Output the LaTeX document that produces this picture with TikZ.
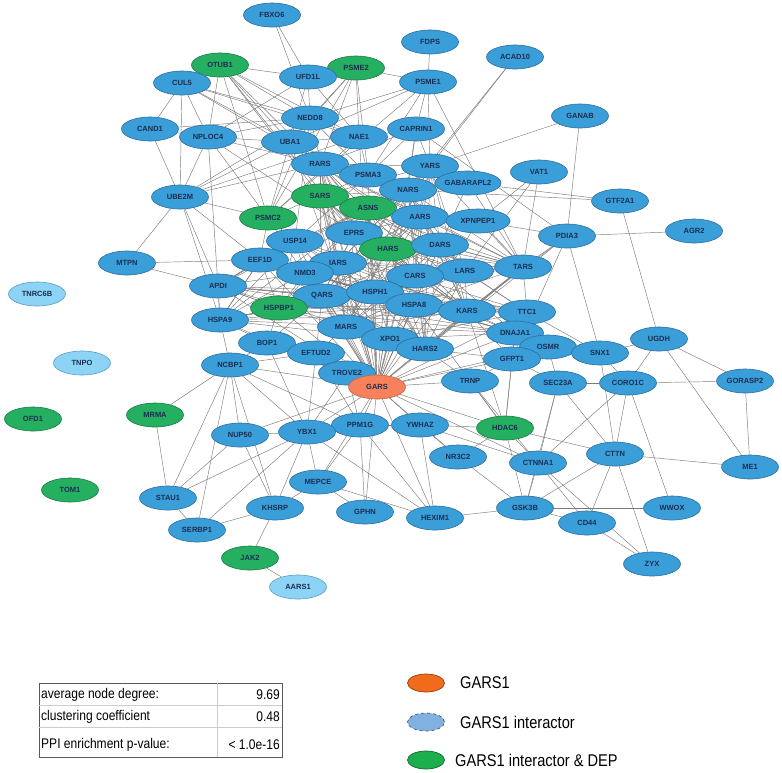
\documentclass[tikz,border=0pt]{standalone}
\usepackage{fontspec}
\setmainfont{Liberation Sans}
\newfontfamily\narrowfont[FakeStretch=0.86]{Liberation Sans}
\usetikzlibrary{shapes.geometric,backgrounds}
\definecolor{nodeblue}{HTML}{3A9ED8}
\definecolor{nodeblueline}{HTML}{2E6E9E}
\definecolor{nodegreen}{HTML}{25B061}
\definecolor{nodegreenline}{HTML}{1C7A45}
\definecolor{nodelight}{HTML}{8DD3F6}
\definecolor{nodelightline}{HTML}{5C9CC4}
\definecolor{nodeorange}{HTML}{F7815A}
\definecolor{nodeorangeline}{HTML}{C8604A}
\definecolor{labeltext}{HTML}{1B2E52}
\definecolor{edgegray}{HTML}{7E7A78}
\definecolor{keyorange}{HTML}{F26B1D}
\definecolor{keyblue}{HTML}{80B1E0}
\definecolor{keygreen}{HTML}{1DAE4E}
\begin{document}
\begin{tikzpicture}[x=1pt,y=-1pt,
  prot/.style={ellipse,draw=nodeblueline,fill=nodeblue,line width=0.6pt,minimum width=57pt,minimum height=24pt,inner sep=0pt,font=\fontsize{7.5}{8}\selectfont\bfseries,text=labeltext},
  dep/.style={prot,fill=nodegreen,draw=nodegreenline},
  lone/.style={prot,fill=nodelight,draw=nodelightline},
  seed/.style={prot,fill=nodeorange,draw=nodeorangeline},
  wide/.style={minimum width=64pt},
  link/.style={draw=edgegray,line width=0.45pt},
  key/.style={ellipse,minimum width=37pt,minimum height=18pt,inner sep=0pt,line width=0.7pt},
  keytext/.style={anchor=west,inner sep=0pt,font=\narrowfont\fontsize{17}{19}\selectfont},
  cell/.style={inner sep=0pt,font=\narrowfont\fontsize{14}{16}\selectfont}]
\useasboundingbox (0,0) rectangle (782,772);

% proteins
\node[prot] (fbxo) at (272,15) {FBXO6};
\node[prot] (fdps) at (430,42) {FDPS};
\node[prot] (acad) at (515,57) {ACAD10};
\node[dep] (otub) at (220,65) {OTUB1};
\node[dep] (psme2) at (356,68) {PSME2};
\node[prot] (cul5) at (182,83) {CUL5};
\node[prot] (ufd) at (308,77) {UFD1L};
\node[prot] (psme1) at (428,82) {PSME1};
\node[prot] (ganab) at (580,116) {GANAB};
\node[prot] (nedd) at (310,118) {NEDD8};
\node[prot] (cand) at (150,129) {CAND1};
\node[prot] (nploc) at (208,137) {NPLOC4};
\node[prot] (uba) at (290,142) {UBA1};
\node[prot] (nae) at (359,137) {NAE1};
\node[prot] (capr) at (416,129) {CAPRIN1};
\node[prot] (rars) at (320,164) {RARS};
\node[prot] (yars) at (430,166) {YARS};
\node[prot] (psma) at (368,175) {PSMA3};
\node[prot] (vat) at (539,172) {VAT1};
\node[prot,wide] (gabar) at (468,183) {GABARAPL2};
\node[prot] (nars) at (408,190) {NARS};
\node[dep] (sars) at (320,196) {SARS};
\node[dep] (asns) at (368,208) {ASNS};
\node[dep] (psmc) at (268,218) {PSMC2};
\node[prot] (ube) at (180,197) {UBE2M};
\node[prot] (gtf) at (620,201) {GTF2A1};
\node[prot] (aars) at (420,217) {AARS};
\node[prot,wide] (xpn) at (478,221) {XPNPEP1};
\node[prot] (eprs) at (354,233) {EPRS};
\node[prot] (pdia) at (567,236) {PDIA3};
\node[prot] (agr) at (694,231) {AGR2};
\node[prot] (usp) at (295,241) {USP14};
\node[dep] (hars) at (388,249) {HARS};
\node[prot] (dars) at (440,245) {DARS};
\node[prot] (eef) at (260,260) {EEF1D};
\node[prot] (mtpn) at (127,263) {MTPN};
\node[prot] (iars) at (338,263) {IARS};
\node[prot] (tars) at (523,267) {TARS};
\node[prot] (lars) at (465,271) {LARS};
\node[prot] (nmd) at (305,273) {NMD3};
\node[prot] (cars) at (415,276) {CARS};
\node[prot] (apdi) at (218,286) {APDI};
\node[lone] (tnrc) at (37,294) {TNRC6B};
\node[prot] (qars) at (322,296) {QARS};
\node[prot] (hsph) at (375,292) {HSPH1};
\node[prot] (hspa8) at (414,305) {HSPA8};
\node[dep] (hspbp) at (279,308) {HSPBP1};
\node[prot] (kars) at (467,311) {KARS};
\node[prot] (ttc) at (527,312) {TTC1};
\node[prot] (hspa9) at (220,320) {HSPA9};
\node[prot] (mars) at (346,327) {MARS};
\node[prot] (dnaj) at (515,333) {DNAJA1};
\node[prot] (xpo) at (390,339) {XPO1};
\node[prot] (ugdh) at (659,339) {UGDH};
\node[prot] (bop) at (267,343) {BOP1};
\node[prot] (gsn) at (548,347) {OSMR};
\node[prot] (hars2) at (425,349) {HARS2};
\node[prot] (eftud) at (316,353) {EFTUD2};
\node[prot] (snx) at (600,353) {SNX1};
\node[prot] (gfpt) at (512,359) {GFPT1};
\node[lone] (tnpo) at (82,363) {TNPO};
\node[prot] (ncbp) at (230,365) {NCBP1};
\node[prot] (trove) at (347,373) {TROVE2};
\node[prot] (trnp) at (470,381) {TRNP};
\node[prot] (sec) at (558,383) {SEC23A};
\node[prot] (coro) at (628,383) {CORO1C};
\node[prot] (goras) at (745,381) {GORASP2};
\node[seed] (gars) at (377,387) {GARS};
\node[dep] (mrma) at (155,415) {MRMA};
\node[dep] (ofd) at (33,419) {OFD1};
\node[prot] (ppm) at (360,425) {PPM1G};
\node[prot] (ywhaz) at (420,425) {YWHAZ};
\node[dep] (hdac) at (505,428) {HDAC6};
\node[prot] (ybx) at (307,432) {YBX1};
\node[prot] (nup) at (240,435) {NUP50};
\node[prot] (cttn) at (615,454) {CTTN};
\node[prot] (nr) at (458,457) {NR3C2};
\node[prot] (ctnna) at (538,463) {CTNNA1};
\node[prot] (me1) at (750,467) {ME1};
\node[prot] (mepce) at (318,482) {MEPCE};
\node[dep] (tom) at (70,490) {TOM1};
\node[prot] (stau) at (168,498) {STAU1};
\node[prot] (khsrp) at (275,508) {KHSRP};
\node[prot] (gsk) at (525,508) {GSK3B};
\node[prot] (wwox) at (672,508) {WWOX};
\node[prot] (gphn) at (365,512) {GPHN};
\node[prot] (hexim) at (435,518) {HEXIM1};
\node[prot] (cd44) at (587,523) {CD44};
\node[prot] (serbp) at (197,530) {SERBP1};
\node[dep] (jak) at (250,558) {JAK2};
\node[prot] (zyx) at (652,564) {ZYX};
\node[lone] (aars1) at (298,587) {AARS1};

% interactions
\begin{scope}[on background layer]
\foreach \a/\b in {fbxo/ufd,fbxo/nedd,otub/ufd,otub/cul5,otub/nploc,otub/nedd,otub/uba,otub/rars,otub/psmc,otub/nae,otub/eprs,otub/sars,
  cul5/cand,cul5/ube,cul5/nedd,cul5/uba,cul5/nae,cul5/nploc,cul5/rars,cand/ube,cand/nploc,cand/nedd,
  nploc/ufd,nploc/uba,nploc/nedd,nploc/ube,nploc/psmc,nploc/psma,nploc/apdi,nploc/eprs,
  ube/mtpn,ube/nedd,ube/nae,ube/uba,ube/psmc,ube/eef,ube/hspa9,ube/apdi,ube/rars,mtpn/eef,mtpn/apdi,
  psme2/psme1,psme2/ufd,psme2/nedd,psme2/nae,psme2/psma,psme2/psmc,psme2/uba,psme2/rars,
  psme1/fdps,psme1/capr,psme1/nedd,psme1/psma,psme1/psmc,psme1/tars,psme1/uba,psme1/yars,
  acad/yars,acad/nars,ganab/yars,ganab/pdia,vat/tars,vat/xpn,vat/lars,gtf/ugdh,gtf/gabar,gtf/nars,
  pdia/agr,pdia/tars,pdia/snx,pdia/gfpt,pdia/xpn,pdia/capr,pdia/kars,pdia/hars2,
  ugdh/me1,ugdh/coro,ugdh/snx,ugdh/goras,goras/me1,goras/coro,
  coro/sec,coro/cttn,coro/ctnna,coro/wwox,coro/snx,sec/cttn,sec/ctnna,sec/gsk,sec/gsn,sec/gfpt,
  cttn/me1,cttn/zyx,cttn/cd44,cttn/hdac,cttn/gsk,cttn/snx,
  ctnna/cd44,ctnna/gsk,ctnna/hdac,ctnna/ywhaz,ctnna/trnp,ctnna/zyx,
  gsk/wwox,gsk/nr,gsk/hdac,gsk/cd44,gsk/hexim,cd44/zyx,
  hdac/ywhaz,hdac/trnp,hdac/gfpt,hdac/hspa8,hdac/kars,hdac/dnaj,ywhaz/hexim,ywhaz/nr,ywhaz/ppm,
  hexim/mepce,hexim/ybx,hexim/ppm,mepce/ybx,mepce/khsrp,mepce/ppm,mepce/gphn,gphn/ppm,
  khsrp/jak,khsrp/ybx,khsrp/nup,khsrp/serbp,khsrp/ncbp,jak/aars1,
  stau/mrma,stau/ncbp,stau/serbp,stau/ybx,stau/nup,serbp/ncbp,serbp/ybx,mrma/ncbp,
  ncbp/nup,ncbp/ybx,ncbp/bop,ncbp/ppm,ncbp/hspa9,ncbp/eftud,nup/ybx,ybx/ppm,ybx/eftud,ybx/trove,ybx/bop,
  ppm/trove,ppm/eftud,trove/eftud,nr/hdac,trnp/gfpt,trnp/hars2,
  gsn/dnaj,gsn/snx,gsn/gfpt,gsn/ttc,snx/ttc,snx/dnaj,ttc/tars,ttc/dnaj,ttc/kars,ttc/lars,
  dnaj/gfpt,dnaj/kars,gfpt/kars,gfpt/hars2,
  hspa9/apdi,hspa9/bop,hspa9/hspbp,hspa9/eef,apdi/eef,apdi/hspbp,apdi/qars,
  bop/eftud,bop/hspbp,bop/qars,eftud/qars,eftud/mars,tars/xpn,tars/lars,tars/dars,tars/kars,tars/gabar,
  psma/psmc,psma/nae,psma/uba,psma/nedd,psmc/uba,psmc/nedd,psmc/nae,psmc/usp,
  nae/uba,nae/nedd,uba/nedd,ufd/nedd,ufd/uba,ufd/nae,
  capr/nae,capr/yars,capr/psma,capr/nars,capr/rars,usp/psma,usp/nedd,eef/psmc,eef/usp,eef/nmd}
  \draw[link] (\a) -- (\b);
% GARS to its partners
\foreach \b in {rars,yars,psma,nars,sars,asns,aars,xpn,eprs,usp,hars,dars,eef,iars,lars,nmd,cars,qars,hsph,
  hspa8,hspbp,kars,ttc,mars,dnaj,xpo,bop,hars2,eftud,trove,gsn,gfpt,hdac,ybx,ncbp,nup,mepce,hexim,
  ctnna,apdi,hspa9,capr,nae,gabar,psmc,uba,nedd,ppm,ywhaz,trnp,gphn,nr,tars}
  \draw[link] (gars) -- (\b);
% synthetase core
\def\arslist{rars,yars,nars,sars,aars,eprs,hars,dars,iars,lars,cars,qars,mars,kars,hars2,tars}
\foreach \a [count=\i] in \arslist
  \foreach \b [count=\j] in \arslist
    {\ifnum\j>\i \draw[link] (\a) -- (\b);\fi}
% chaperone group
\def\hsplist{hsph,hspa8,hspbp,dnaj,ttc,xpo,hspa9,apdi,asns,usp,eef,nmd}
\foreach \a [count=\i] in \hsplist
  \foreach \b [count=\j] in \hsplist
    {\ifnum\j>\i \draw[link] (\a) -- (\b);\fi}
\end{scope}

% stats table
\draw[gray!70!black,line width=0.8pt] (39,683) rectangle (282,757);
\draw[gray!40] (39,705) -- (282,705) (39,727) -- (282,727) (217,683) -- (217,757);
\node[cell,anchor=west] (deg) at (41,695) {average node degree:};
\node[cell,anchor=east] (degv) at (280,695) {9.69};
\node[cell,anchor=west] (clu) at (41,717) {clustering coefficient};
\node[cell,anchor=east] (cluv) at (280,717) {0.48};
\node[cell,anchor=west] (ppi) at (41,745) {PPI enrichment p-value:};
\node[cell,anchor=east] (ppiv) at (280,745) {< 1.0e-16};

% legend
\node[key,fill=keyorange,draw=keyorange!60!black] (kgars) at (426,683) {};
\node[keytext] (tgars) at (460,683) {GARS1};
\node[key,fill=keyblue,draw=keyblue!50!black,dashed] (kint) at (426,722) {};
\node[keytext] (tint) at (460,722) {GARS1 interactor};
\node[key,fill=keygreen,draw=keygreen!60!black] (kdep) at (426,760) {};
\node[keytext] (tdep) at (455,760) {GARS1 interactor \& DEP};
\end{tikzpicture}
\end{document}
